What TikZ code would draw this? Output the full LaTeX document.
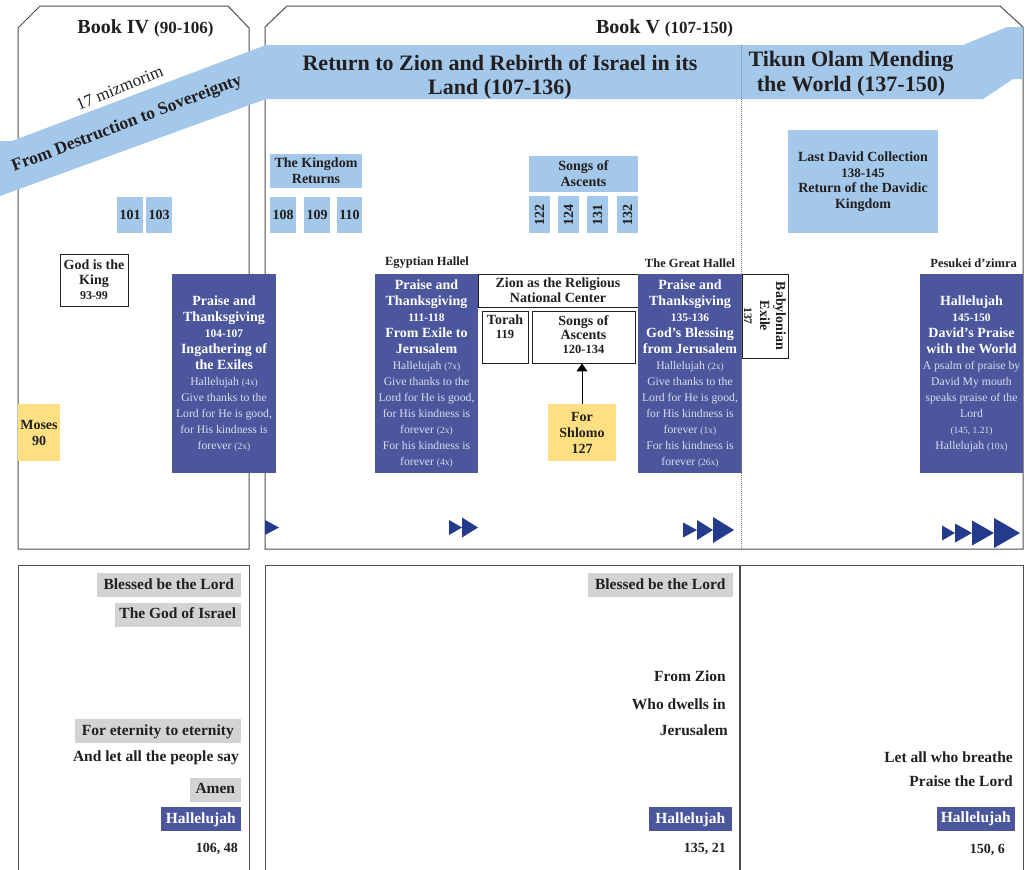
\documentclass[tikz,border=0pt]{standalone}
\usepackage{fontspec}
\setmainfont{Liberation Serif}
\usetikzlibrary{arrows.meta}
\definecolor{lblue}{HTML}{A3C8EA}
\definecolor{purp}{HTML}{4B569D}
\definecolor{yel}{HTML}{FEE083}
\definecolor{glabel}{HTML}{D1D3D4}
\definecolor{tricol}{HTML}{243A8C}
\definecolor{ink}{HTML}{231F20}
\definecolor{lav}{HTML}{DCDDEF}
\definecolor{pline}{HTML}{4D4D4D}
\newcommand{\fnt}[2]{\fontsize{#1}{#2}\selectfont}
\newcommand{\numsz}[1]{{\fnt{11.5}{16}#1}}
\newcommand{\lite}[1]{{\fnt{11.7}{16}\mdseries\color{lav}#1}}
\newcommand{\parsz}[1]{{\fnt{9.5}{16}#1}}
\newcommand{\rtri}[4]{\fill[tricol] (#1,{#2-#4/2}) -- ({#1+#3},#2) -- (#1,{#2+#4/2}) -- cycle;}
\tikzset{
  panel/.style={draw=pline, line width=1pt},
  pbox/.style={fill=purp, text=white, inner sep=0pt, align=center, font=\fnt{14}{16}\bfseries, minimum width=104pt, minimum height=199pt},
  lbox/.style={fill=lblue, text=ink, inner sep=0pt, align=center, font=\fnt{14}{16}\bfseries},
  numbox/.style={lbox, minimum width=26pt, minimum height=36pt},
  wbox/.style={draw=ink, line width=0.9pt, fill=white, text=ink, inner sep=0pt, align=center, font=\fnt{14}{15}\bfseries},
  intext/.style={text=ink, inner sep=0pt, align=center, anchor=north},
  ybox/.style={fill=yel, text=ink, inner sep=0pt, align=center, font=\fnt{14}{16}\bfseries},
  ttl/.style={text=ink, inner sep=0pt, font=\fnt{12.5}{15}\bfseries},
  bantxt/.style={text=ink, inner sep=0pt, align=center, font=\fnt{22}{24.5}\bfseries},
  glab/.style={fill=glabel, text=ink, inner xsep=0pt, inner ysep=0pt, font=\fnt{15.5}{18}\bfseries, text height=11pt, text depth=3pt, minimum height=24pt, anchor=east},
  hlab/.style={glab, fill=purp, text=white},
  plab/.style={text=ink, inner sep=0pt, font=\fnt{15.5}{18}\bfseries, text height=11pt, text depth=3pt, anchor=east},
  reflab/.style={text=ink, inner sep=0pt, font=\fnt{14}{16}\bfseries, text height=10pt, text depth=3pt, anchor=east},
  dotline/.style={draw=gray, line width=0.8pt, dash pattern=on 1pt off 1pt}
}
\begin{document}
\begin{tikzpicture}[x=1pt,y=-1pt]
\useasboundingbox (0,0) rectangle (1031,870);
\fill[white] (0,0) rectangle (1031,870);
% panels
\draw[panel] (18,549) -- (18,28) -- (40,6) -- (228,6) -- (249,28) -- (249,549) -- cycle;
\draw[panel] (265,549) -- (265,27) -- (287,6) -- (1000,6) -- (1023,27) -- (1023,549) -- cycle;
\draw[panel] (18,871) -- (18,565) -- (249,565) -- (249,871);
\draw[panel] (265,871) -- (265,565) -- (1023,565) -- (1023,871);
\draw[draw=pline, line width=1.5pt] (740,565) -- (740,871);
% titles
\node[ttl, font=\fnt{20}{24}\bfseries, anchor=base] (b4) at (145.5,34) {Book IV {\fnt{17}{20}(90-106)}};
\node[ttl, font=\fnt{20}{24}\bfseries, anchor=base] (b5) at (664.5,34) {Book V {\fnt{17}{20}(107-150)}};
% banners
\fill[lblue] (0,141) -- (12,141) -- (266,45) -- (266,99) -- (0,196) -- cycle;
\fill[lblue] (265,45) -- (963,45) -- (1007,27) -- (1023,27) -- (1023,79) -- (1013,79) -- (983,99) -- (265,99) -- cycle;
\node[text=ink, inner sep=0pt, rotate=21, font=\fnt{17.5}{20}\bfseries] (dest) at (127,124) {From Destruction to Sovereignty};
\node[text=ink, inner sep=0pt, rotate=22, font=\fnt{17}{20}] (miz) at (119.5,88) {17 mizmorim};
\node[bantxt] (ret) at (500,77) {Return to Zion and Rebirth of Israel in its\\Land (107-136)};
\node[bantxt] (tik) at (851,73.5) {Tikun Olam Mending\\the World (137-150)};
% light blue boxes
\node[lbox, minimum width=92pt, minimum height=34pt] (kr) at (316,171) {The Kingdom\\Returns};
\node[numbox] (n101) at (130,215) {101};
\node[numbox] (n103) at (159,215) {103};
\node[numbox] (n108) at (283,215) {108};
\node[numbox] (n109) at (317,215) {109};
\node[numbox, minimum width=25pt] (n110) at (349.5,215) {110};
\node[lbox, minimum width=109pt, minimum height=36pt] (soa) at (583.5,174) {Songs of\\Ascents};
\node[numbox, rotate=90, minimum width=37pt, minimum height=21pt] (n122) at (539.5,214.5) {122};
\node[numbox, rotate=90, minimum width=37pt, minimum height=21pt] (n124) at (568.5,214.5) {124};
\node[numbox, rotate=90, minimum width=37pt, minimum height=21pt] (n131) at (597.5,214.5) {131};
\node[numbox, rotate=90, minimum width=37pt, minimum height=21pt] (n132) at (627.5,214.5) {132};
\node[lbox, minimum width=150pt, minimum height=103pt, font=\fnt{14}{15.5}\bfseries] (ldc) at (863,181.5) {Last David Collection\\{\fnt{13}{16}138-145}\\Return of the Davidic\\Kingdom};
% labels above columns
\node[ttl] (eh) at (427,263) {Egyptian Hallel};
\node[ttl] (gh) at (690,263) {The Great Hallel};
\node[ttl, anchor=east] (pz) at (1017,263) {Pesukei d’zimra};
% white boxes
\node[wbox, minimum width=68pt, minimum height=52pt] (gk) at (94,280) {God is the\\King\\{\fnt{12}{15}93-99}};
\node[wbox, minimum width=160pt, minimum height=33pt] (zion) at (558,290.5) {Zion as the Religious\\National Center};
\node[wbox, minimum width=46pt, minimum height=52pt] (torah) at (505,337) {};
\node[intext, font=\fnt{14}{13.3}\bfseries] (torahT) at (505,315) {Torah\\{\fnt{12.5}{14}119}};
\node[wbox, minimum width=103pt, minimum height=52pt] (songs) at (583.5,337) {};
\node[intext, font=\fnt{14}{14.2}\bfseries] (songsT) at (583.5,315) {Songs of\\Ascents\\{\fnt{12.5}{14}120-134}};
% purple boxes
\node[pbox] (p1) at (224,373.5) {Praise and\\Thanksgiving\\\numsz{104-107}\\Ingathering of\\the Exiles\\\lite{Hallelujah \parsz{(4x)}}\\\lite{Give thanks to the}\\\lite{Lord for He is good,}\\\lite{for His kindness is}\\\lite{forever \parsz{(2x)}}};
\node[pbox, minimum width=103pt] (p2) at (426.5,373.5) {Praise and\\Thanksgiving\\\numsz{111-118}\\From Exile to\\Jerusalem\\\lite{Hallelujah \parsz{(7x)}}\\\lite{Give thanks to the}\\\lite{Lord for He is good,}\\\lite{for His kindness is}\\\lite{forever \parsz{(2x)}}\\\lite{For his kindness is}\\\lite{forever \parsz{(4x)}}};
\node[pbox] (p3) at (690,373.5) {Praise and\\Thanksgiving\\\numsz{135-136}\\God’s Blessing\\from Jerusalem\\\lite{Hallelujah \parsz{(2x)}}\\\lite{Give thanks to the}\\\lite{Lord for He is good,}\\\lite{for His kindness is}\\\lite{forever \parsz{(1x)}}\\\lite{For his kindness is}\\\lite{forever \parsz{(26x)}}};
\node[pbox, minimum width=103pt] (p4) at (971.5,373.5) {Hallelujah\\\numsz{145-150}\\David’s Praise\\with the World\\\lite{A psalm of praise by}\\\lite{David My mouth}\\\lite{speaks praise of the}\\\lite{Lord}\\\lite{\parsz{(145, 1.21)}}\\\lite{Hallelujah \parsz{(10x)}}};
\node[wbox, rotate=-90, minimum width=84pt, minimum height=46pt, font=\fnt{14}{16}\bfseries] (bab) at (765,316) {Babylonian\\Exile\\\numsz{137}};
% yellow boxes
\node[ybox, minimum width=42pt, minimum height=57pt] (moses) at (39,432.5) {Moses\\90};
\node[ybox, minimum width=68pt, minimum height=57pt] (shl) at (582,432.5) {For\\Shlomo\\127};
\draw[-{Triangle[width=11pt,length=8pt]}, line width=1pt, draw=black] (shl.north) -- (shl.north |- songs.south);
% progress triangles
\rtri{265}{527.5}{14}{15}
\rtri{449}{527.5}{13}{15}
\rtri{462}{527.5}{16}{20}
\rtri{683}{530}{14}{15}
\rtri{697}{530}{16}{20}
\rtri{713}{530}{21}{26}
\rtri{942}{533}{13}{15}
\rtri{955}{533}{17}{19}
\rtri{972}{533}{22}{25}
\rtri{994}{533}{26}{30}
% dotted divider
\draw[dotline] (741,45) -- (741,549);
% bottom left
\node[glab, minimum width=144pt] (bl1) at (241,585) {Blessed be the Lord};
\node[glab, minimum width=126pt] (bl2) at (241,614.5) {The God of Israel};
\node[glab, minimum width=166pt] (bl3) at (241,731) {For eternity to eternity};
\node[plab] (bl4) at (239,757) {And let all the people say};
\node[glab, minimum width=51pt] (bl5) at (241,789.5) {Amen};
\node[hlab, minimum width=80pt] (bl6) at (241,819) {Hallelujah};
\node[reflab] (bl7) at (238,849) {106, 48};
% bottom middle
\node[glab, minimum width=145pt] (bm1) at (733,585) {Blessed be the Lord};
\node[plab] (bm2) at (726,677) {From Zion};
\node[plab] (bm3) at (726,705) {Who dwells in};
\node[plab] (bm4) at (728,731) {Jerusalem};
\node[hlab, minimum width=83pt] (bm5) at (732,819) {Hallelujah};
\node[reflab] (bm6) at (726,849) {135, 21};
% bottom right
\node[plab] (br1) at (1013,758) {Let all who breathe};
\node[plab] (br2) at (1013,782) {Praise the Lord};
\node[hlab, minimum width=78pt] (br3) at (1015,818.5) {Hallelujah};
\node[reflab] (br4) at (1005,850) {150, 6};
\end{tikzpicture}
\end{document}
